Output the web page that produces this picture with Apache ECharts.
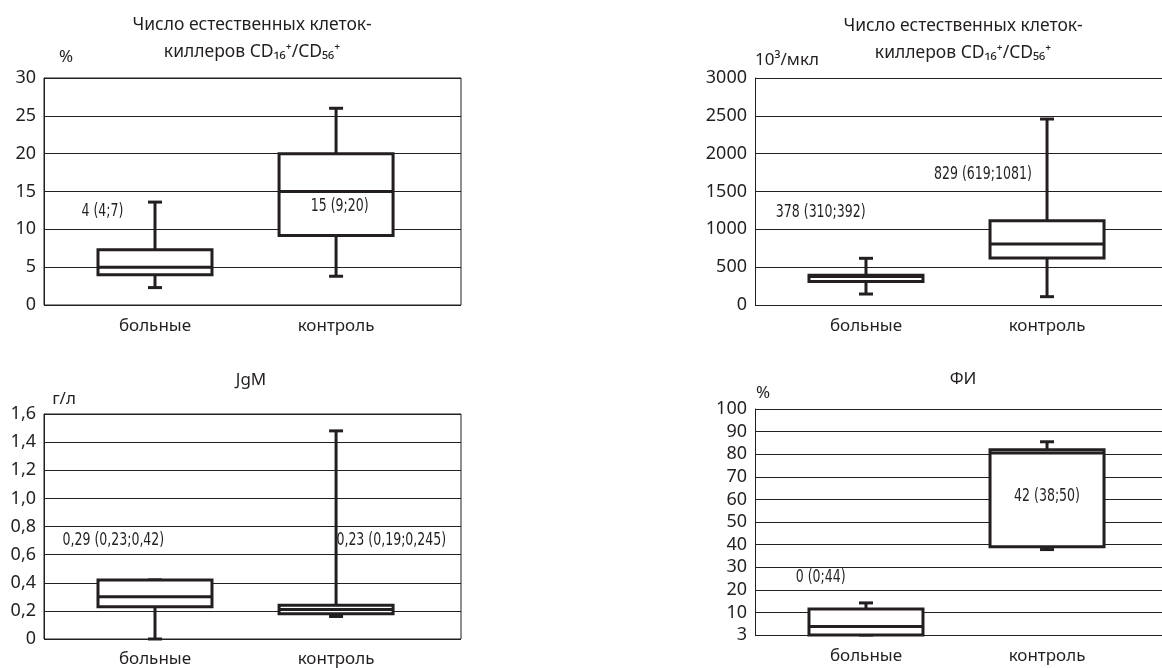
<!DOCTYPE html>
<html>
<head>
<meta charset="utf-8">
<script src="https://cdn.jsdelivr.net/npm/echarts@6/dist/echarts.min.js"></script>
<style>
    html, body { margin: 0; padding: 0; background: #fff; }
    #chart { width: 1162px; height: 668px; }
</style>
</head>
<body>
<div id="chart"></div>
<script>
var categories = ['больные', 'контроль'];

// [min, Q1, median, Q3, max] for each group
var nkPercent = [[2.3, 4, 5, 7.3, 13.6], [3.8, 9.2, 15, 20, 26]];
var nkAbsolute = [[145, 310, 378, 392, 617], [110, 620, 805, 1115, 2458]];
var igm = [[0, 0.23, 0.30, 0.42, 0.42], [0.16, 0.18, 0.21, 0.24, 1.48]];
var fi = [[0, 0, 3.8, 11.5, 14.2], [37.8, 39.1, 80.5, 82, 85.5]];

var nkPercentNotes = ['4 (4;7)', '15 (9;20)'];
var nkAbsoluteNotes = ['378 (310;392)', '829 (619;1081)'];
var igmNotes = ['0,29 (0,23;0,42)', '0,23 (0,19;0,245)'];
var fiNotes = ['0 (0;44)', '42 (38;50)'];

var igmTicks = ['0', '0,2', '0,4', '0,6', '0,8', '1,0', '1,2', '1,4', '1,6'];
var fiTicks = ['3', '10', '20', '30', '40', '50', '60', '70', '80', '90', '100'];

var ink = '#231f20';
var baseFont = "'Noto Sans', 'DejaVu Sans', sans-serif";
var noteFont = "'Liberation Sans Narrow', 'DejaVu Sans Condensed', sans-serif";

var panels = [
    {
        data: nkPercent, notes: nkPercentNotes, notesAt: [[-0.29, 12.4], [1.02, 13]],
        grid: { left: 44, top: 78, width: 417, height: 227 }, xRange: [-0.613, 1.69],
        yMax: 30, yStep: 5, ticks: null, frame: true, labelGap: 13
    },
    {
        data: nkAbsolute, notes: nkAbsoluteNotes, notesAt: [[-0.25, 1216], [0.646, 1718]],
        grid: { left: 755, top: 78, right: 0, height: 227 }, xRange: [-0.613, 1.635],
        yMax: 3000, yStep: 500, ticks: null, frame: false, labelGap: 13
    },
    {
        data: igm, notes: igmNotes, notesAt: [[-0.23, 0.70], [1.305, 0.70]],
        grid: { left: 44, top: 414, width: 417, height: 227 }, xRange: [-0.613, 1.69],
        yMax: 1.6, yStep: 0.2, ticks: igmTicks, frame: true, labelGap: 12
    },
    {
        data: fi, notes: fiNotes, notesAt: [[-0.25, 25.2], [1.0, 61.4]],
        grid: { left: 755, top: 409, right: 0, height: 226 }, xRange: [-0.613, 1.635],
        yMax: 100, yStep: 10, ticks: fiTicks, frame: false, labelGap: 13
    }
];

function renderBox(params, api) {
    var x = api.value(0);
    var lo = api.coord([x, api.value(1)]);
    var q1 = api.coord([x, api.value(2)]);
    var med = api.coord([x, api.value(3)]);
    var q3 = api.coord([x, api.value(4)]);
    var hi = api.coord([x, api.value(5)]);
    var cx = lo[0], half = 57, cap = 7;
    var stroke = { stroke: ink, lineWidth: 3 };
    return {
        type: 'group',
        children: [
            { type: 'line', shape: { x1: cx, y1: hi[1], x2: cx, y2: q3[1] }, style: stroke },
            { type: 'line', shape: { x1: cx, y1: q1[1], x2: cx, y2: lo[1] }, style: stroke },
            { type: 'line', shape: { x1: cx - cap, y1: hi[1], x2: cx + cap, y2: hi[1] }, style: stroke },
            { type: 'line', shape: { x1: cx - cap, y1: lo[1], x2: cx + cap, y2: lo[1] }, style: stroke },
            { type: 'rect', shape: { x: cx - half, y: q3[1], width: half * 2, height: q1[1] - q3[1] },
              style: { fill: '#fff', stroke: ink, lineWidth: 3 } },
            { type: 'line', shape: { x1: cx - half, y1: med[1], x2: cx + half, y2: med[1] }, style: stroke }
        ]
    };
}

function noteRenderer(notes) {
    return function (params, api) {
        var p = api.coord([api.value(0), api.value(1)]);
        return {
            type: 'text',
            x: p[0], y: p[1], scaleX: 0.82,
            style: {
                text: notes[params.dataIndex], fill: ink,
                font: '17px ' + noteFont, align: 'center', verticalAlign: 'middle'
            }
        };
    };
}

var option = { animation: false, grid: [], xAxis: [], yAxis: [], series: [], graphic: [] };

panels.forEach(function (p, i) {
    var grid = Object.assign({ containLabel: false }, p.grid);
    if (p.frame) {
        grid.show = true;
        grid.borderColor = ink;
        grid.borderWidth = 1;
    }
    option.grid.push(grid);
    option.xAxis.push({
        type: 'value', gridIndex: i, min: p.xRange[0], max: p.xRange[1],
        axisLine: { show: false, onZero: false }, axisTick: { show: false }, splitLine: { show: false },
        axisLabel: {
            customValues: [0, 1], margin: p.labelGap, color: ink,
            fontFamily: baseFont, fontSize: 17,
            formatter: function (v) { return categories[Math.round(v)]; }
        }
    });
    option.yAxis.push({
        type: 'value', gridIndex: i, min: 0, max: p.yMax, interval: p.yStep,
        axisLine: { show: true, onZero: false, lineStyle: { color: ink, width: 1 } },
        axisTick: { show: false },
        splitLine: { show: true, lineStyle: { color: ink, width: 1 } },
        axisLabel: {
            margin: 8, color: ink, fontFamily: baseFont, fontSize: 18,
            formatter: function (v) {
                return p.ticks ? p.ticks[Math.round(v / p.yStep)] : String(v);
            }
        }
    });
    option.series.push({
        type: 'custom', xAxisIndex: i, yAxisIndex: i, renderItem: renderBox,
        encode: { x: 0, y: [1, 2, 3, 4, 5] },
        data: p.data.map(function (d, k) { return [k].concat(d); }),
        z: 3
    });
    option.series.push({
        type: 'custom', xAxisIndex: i, yAxisIndex: i, renderItem: noteRenderer(p.notes),
        encode: { x: 0, y: 1 },
        data: p.notesAt,
        z: 4
    });
});

function text(str, x, y, size) {
    return {
        type: 'text', x: x, y: y,
        style: { text: str, fill: ink, font: size + 'px ' + baseFont, align: 'center', verticalAlign: 'middle' }
    };
}

var nkTitle = 'Число естественных клеток-\nкиллеров CD₁₆⁺/CD₅₆⁺';
option.graphic = [
    { type: 'text', x: 252, y: 39, style: { text: nkTitle, fill: ink, font: '17.5px ' + baseFont, lineHeight: 27, align: 'center', verticalAlign: 'middle' } },
    { type: 'text', x: 963, y: 40, style: { text: nkTitle, fill: ink, font: '17.5px ' + baseFont, lineHeight: 27, align: 'center', verticalAlign: 'middle' } },
    text('JgM', 251, 380, 17),
    text('ФИ', 963, 379, 17),
    text('%', 66, 57, 17),
    text('10³/мкл', 787, 60, 17),
    text('г/л', 64, 399, 17),
    text('%', 763, 393, 17)
];

var chart = echarts.init(document.getElementById('chart'));
chart.setOption(option);
</script>
</body>
</html>
